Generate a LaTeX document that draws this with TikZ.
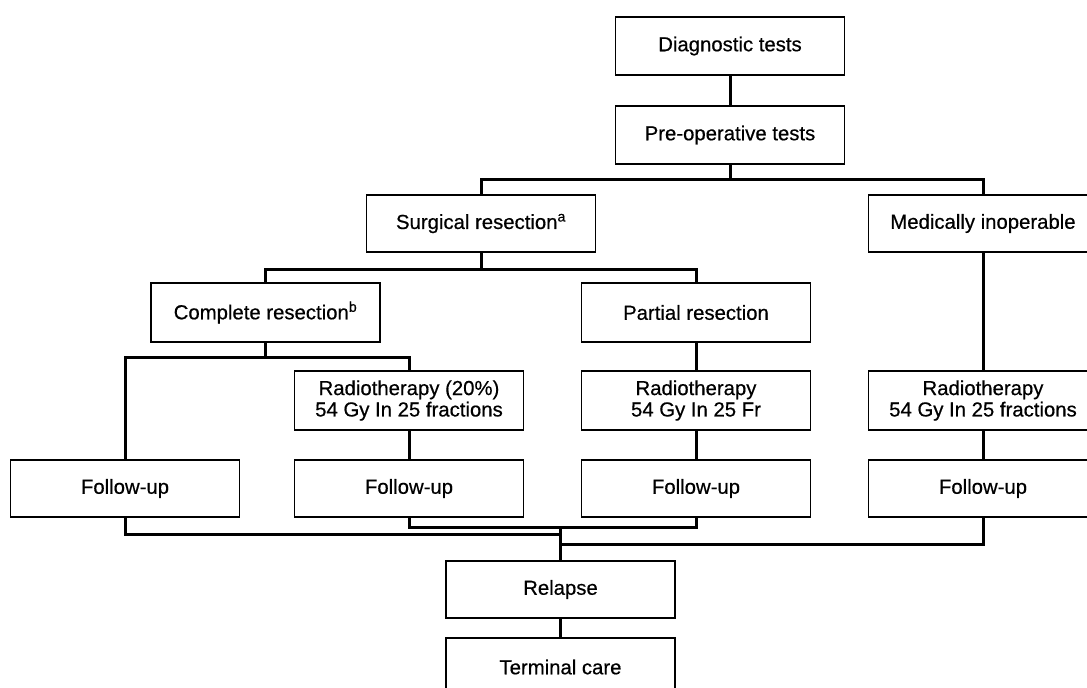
\documentclass[tikz,border=0pt]{standalone}
\usepackage{fontspec}
\setmainfont{Liberation Sans}[FakeBold=0.5]
\begin{document}
\begin{tikzpicture}[x=1bp,y=-1bp,
  box/.style={draw=black,line width=1.7bp,minimum width=229bp,minimum height=58bp,inner sep=0pt,align=center,
    font=\fontsize{20.4}{21.5}\selectfont},
  conn/.style={draw=black,line width=3bp,line cap=rect}]
\useasboundingbox (0,0) rectangle (1087,688);
\clip (0,0) rectangle (1087,688);
\fill[white] (0,0) rectangle (1087,688);
\node[box] (diag) at (730,46) {Diagnostic tests};
\node[box] (preop) at (730,135) {Pre-operative tests};
\node[box,minimum height=57bp] (surg) at (481,223.5) {Surgical resection\textsuperscript{a}};
\node[box,minimum height=57bp] (med) at (983,223.5) {Medically inoperable};
\node[box,minimum height=59bp] (comp) at (265.5,312.5) {Complete resection\textsuperscript{b}};
\node[box,minimum height=59bp] (part) at (696,312.5) {Partial resection};
\node[box,minimum height=59bp] (rtone) at (409,400.5) {Radiotherapy (20\%)\\54 Gy In 25 fractions};
\node[box,minimum height=59bp] (rttwo) at (696,400.5) {Radiotherapy\\54 Gy In 25 Fr};
\node[box,minimum height=59bp] (rtthree) at (983,400.5) {Radiotherapy\\54 Gy In 25 fractions};
\node[box,minimum height=57bp] (fuone) at (125,488.5) {Follow-up};
\node[box,minimum height=57bp] (futwo) at (409,488.5) {Follow-up};
\node[box,minimum height=57bp] (futhree) at (696,488.5) {Follow-up};
\node[box,minimum height=57bp] (fufour) at (983,488.5) {Follow-up};
\node[box,minimum height=57bp] (relapse) at (560.5,589.5) {Relapse};
\node[box] (term) at (560.5,667) {Terminal care};
\coordinate (ja) at (730,180);
\coordinate (jb) at (481,269);
\coordinate (jc) at (265.5,357);
\coordinate (jd) at (560.5,527);
\coordinate (je) at (560.5,534);
\coordinate (jf) at (560.5,544);
\draw[conn] (diag.south) -- (preop.north);
\draw[conn] (preop.south) -- (ja);
\draw[conn] (surg.north) |- (ja) -| (med.north);
\draw[conn] (surg.south) -- (jb);
\draw[conn] (comp.north) |- (jb) -| (part.north);
\draw[conn] (comp.south) -- (jc);
\draw[conn] (fuone.north) |- (jc) -| (rtone.north);
\draw[conn] (rtone.south) -- (futwo.north);
\draw[conn] (part.south) -- (rttwo.north);
\draw[conn] (rttwo.south) -- (futhree.north);
\draw[conn] (med.south) -- (rtthree.north);
\draw[conn] (rtthree.south) -- (fufour.north);
\draw[conn] (futwo.south) |- (jd) -| (futhree.south);
\draw[conn] (fuone.south) |- (je);
\draw[conn] (fufour.south) |- (jf);
\draw[conn] (jd) -- (relapse.north);
\draw[conn] (relapse.south) -- (term.north);
\end{tikzpicture}
\end{document}
